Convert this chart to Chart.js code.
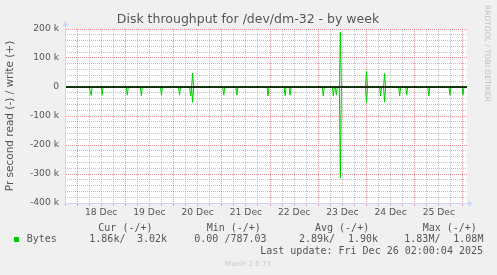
<!DOCTYPE html>
<html><head><meta charset="utf-8">
<script src="https://cdn.jsdelivr.net/npm/chart.js@4/dist/chart.umd.min.js"></script>
<style>html,body{margin:0;padding:0;background:#f0f0f0;overflow:hidden}canvas{display:block}</style>
</head><body>
<div style="width:497px;height:275px;position:relative"><canvas id="c" width="497" height="275"></canvas></div>
<script>
// x unit: 30-minute sample index, 0 = Wed 17 Dec 18:00, 400 = Fri 26 Dec 02:00
const dayLabels = ['18 Dec','19 Dec','20 Dec','21 Dec','22 Dec','23 Dec','24 Dec','25 Dec'];
const gridSamples = [0,12,24,36,48,60,72,84,96,108,120,132,144,156,168,180,192,204,216,228,240,252,264,276,288,300,312,324,336,348,360,372,384,396];
const midnightSamples = [12,60,108,156,204,252,300,348,396];
const noonSamples = [36,84,132,180,228,276,324,372];

// read (drawn negative), bytes/s
const readAt  = [15, 25, 26, 37, 62, 76, 85, 96, 114, 125, 127, 136, 158, 161, 171, 184, 192, 202, 209, 219, 224, 239, 257, 267, 270, 274, 287, 300, 314, 318, 333, 340, 352, 362, 366, 383, 396, 400];
const readVal = [3000, 15000, 29000, 27000, 28000, 30000, 4000, 28000, 28000, 30000, 53000, 2000, 28000, 3000, 28000, 2000, 2000, 31000, 3000, 30000, 28000, 2000, 31000, 31000, 28000, 314000, 2000, 55000, 31000, 52000, 31000, 28000, 3000, 31000, 2000, 28000, 28000, 1860];
// write (drawn positive), bytes/s
const writeAt  = [35, 112, 127, 133, 274, 300, 302, 318, 400];
const writeVal = [3000, 2000, 48000, 1500, 189000, 54000, 2000, 47000, 3020];

// y axis ticks (bytes/s)
const yTicks = [-400000, -300000, -200000, -100000, 0, 100000, 200000];
const yMinorTicks = [-380000,-360000,-340000,-320000,-280000,-260000,-240000,-220000,-180000,-160000,-140000,-120000,-80000,-60000,-40000,-20000,20000,40000,60000,80000,120000,140000,160000,180000];

const legendHeaders = ['Cur (-/+)', 'Min (-/+)', 'Avg (-/+)', 'Max (-/+)'];
const legendName = 'Bytes';
const legendValues = ['1.86k/', '3.02k', '0.00 /787.03', '2.89k/', '1.90k', '1.83M/', '1.08M'];
const lastUpdate = 'Last update: Fri Dec 26 02:00:04 2025';

function buildSeries(at, val, sign) {
  const m = new Map();
  m.set(0, 0);
  at.forEach(t => {
    if (t - 1 >= 0 && !m.has(t - 1)) m.set(t - 1, 0);
    if (t + 1 <= 400 && !m.has(t + 1)) m.set(t + 1, 0);
  });
  at.forEach((t, i) => m.set(t, sign * val[i]));
  if (!m.has(400)) m.set(400, 0);
  return [...m.entries()].sort((a, b) => a[0] - b[0]).map(([x, y]) => ({x, y}));
}

const GREEN = '#00cc00';
const MGRID = 'rgba(222,79,79,0.6)';
const GRID = 'rgba(150,150,150,0.6)';
const AXIS = '#CFD6F8';
const FONTC = '#555555';

const deco = {
  id: 'deco',
  beforeDraw(chart) {
    const {ctx, chartArea: a} = chart;
    ctx.save();
    ctx.fillStyle = '#f0f0f0';
    ctx.fillRect(0, 0, chart.width, chart.height);
    ctx.fillStyle = '#ffffff';
    ctx.fillRect(a.left, a.top, a.right - a.left, a.bottom - a.top);
    ctx.restore();
  },
  afterDatasetsDraw(chart) {
    const {ctx, chartArea: a, scales} = chart;
    const y0 = scales.y.getPixelForValue(0);
    ctx.save();
    ctx.strokeStyle = '#000000';
    ctx.lineWidth = 1.4;
    ctx.beginPath();
    ctx.moveTo(a.left, y0);
    ctx.lineTo(a.right, y0);
    ctx.stroke();
    ctx.restore();
  },
  afterDraw(chart) {
    const {ctx, chartArea: a} = chart;
    ctx.save();
    // axis extensions + arrows
    ctx.strokeStyle = AXIS; ctx.fillStyle = AXIS; ctx.lineWidth = 1;
    const lx = Math.round(a.left) + 0.5, by = Math.round(a.bottom) + 0.5;
    ctx.beginPath(); ctx.moveTo(lx, a.top); ctx.lineTo(lx, a.top - 4); ctx.stroke();
    ctx.beginPath(); ctx.moveTo(lx - 3, a.top - 3); ctx.lineTo(lx + 3, a.top - 3); ctx.lineTo(lx, a.top - 8); ctx.closePath(); ctx.fill();
    ctx.beginPath(); ctx.moveTo(a.right, by); ctx.lineTo(a.right + 3, by); ctx.stroke();
    ctx.beginPath(); ctx.moveTo(a.right + 1, by - 3); ctx.lineTo(a.right + 1, by + 3); ctx.lineTo(a.right + 6, by); ctx.closePath(); ctx.fill();

    // title
    ctx.fillStyle = FONTC;
    ctx.font = '12.5px "DejaVu Sans"';
    ctx.textAlign = 'center'; ctx.textBaseline = 'alphabetic';
    ctx.fillText('Disk throughput for /dev/dm-32 - by week', 248, 23.3);

    // y axis title
    ctx.save();
    ctx.translate(10, 116);
    ctx.rotate(-Math.PI / 2);
    ctx.font = '10.5px "DejaVu Sans"';
    ctx.textAlign = 'center'; ctx.textBaseline = 'middle';
    ctx.fillText('Pr second read (-) / write (+)', 0, 0);
    ctx.restore();

    // right watermark
    ctx.save();
    ctx.translate(487.3, 5);
    ctx.rotate(Math.PI / 2);
    ctx.fillStyle = '#c0c0c0';
    ctx.font = '7.5px "DejaVu Sans"';
    ctx.textAlign = 'left'; ctx.textBaseline = 'middle';
    ctx.fillText('RRDTOOL / TOBI OETIKER', 0, 0);
    ctx.restore();

    // legend
    ctx.font = '10px "DejaVu Sans Mono"';
    ctx.textAlign = 'left'; ctx.textBaseline = 'middle';
    ctx.fillStyle = FONTC;
    const hx = [98.3, 206.7, 315, 422.7];
    legendHeaders.forEach((h, i) => ctx.fillText(h, hx[i], 228));
    ctx.fillText(legendName, 26.7, 239.5);
    const vx = [89.3, 137, 194.3, 299, 348, 404.3, 453.3];
    legendValues.forEach((v, i) => ctx.fillText(v, vx[i], 239.5));
    ctx.textAlign = 'right';
    ctx.fillText(lastUpdate, 483, 251.7);
    ctx.fillStyle = GREEN;
    ctx.fillRect(14, 237, 5, 5);

    // footer
    ctx.fillStyle = '#c8c8c8';
    ctx.font = '7px "DejaVu Sans"';
    ctx.textAlign = 'center';
    ctx.fillText('Munin 2.0.73', 248, 264);
    ctx.restore();
  }
};

new Chart(document.getElementById('c'), {
  type: 'line',
  data: {
    datasets: [
      {label: 'read', data: buildSeries(readAt, readVal, -1), borderColor: GREEN, borderWidth: 1, pointRadius: 0, tension: 0, fill: false, xAxisID: 'x', yAxisID: 'y'},
      {label: 'write', data: buildSeries(writeAt, writeVal, 1), borderColor: GREEN, borderWidth: 1, pointRadius: 0, tension: 0, fill: false, xAxisID: 'x', yAxisID: 'y'}
    ]
  },
  options: {
    responsive: false,
    animation: false,
    devicePixelRatio: 1,
    layout: {padding: {left: 0, right: 30, top: 29, bottom: 0}},
    plugins: {legend: {display: false}, tooltip: {enabled: false}, title: {display: false}},
    scales: {
      x: {
        type: 'linear', position: 'bottom', min: 0, max: 400,
        afterBuildTicks: s => { s.ticks = gridSamples.map(v => ({value: v})); },
        afterFit: s => { s.height = 72; },
        ticks: {
          autoSkip: false, maxRotation: 0, minRotation: 0, padding: 1,
          color: FONTC, font: {family: 'DejaVu Sans', size: 9.2},
          callback: v => noonSamples.includes(v) ? dayLabels[noonSamples.indexOf(v)] : ''
        },
        grid: {
          color: c => midnightSamples.includes(c.tick.value) ? MGRID : GRID,
          tickColor: c => midnightSamples.includes(c.tick.value) ? MGRID : GRID,
          lineWidth: 1, drawTicks: true, tickLength: 3
        },
        border: {display: true, color: AXIS, width: 1, dash: [1, 1], z: 1}
      },
      y: {
        type: 'linear', position: 'left', min: yTicks[0], max: yTicks[yTicks.length - 1],
        afterBuildTicks: s => { s.ticks = yTicks.map(v => ({value: v})); },
        afterFit: s => { s.width = 65; },
        ticks: {
          autoSkip: false, padding: 6,
          color: FONTC, font: {family: 'DejaVu Sans', size: 9.2},
          callback: v => v === 0 ? '0' : (v / 1000) + ' k'
        },
        grid: {color: MGRID, lineWidth: 1, drawTicks: false},
        border: {display: true, color: AXIS, width: 1, dash: [1, 1], z: 1}
      },
      y2: {
        type: 'linear', position: 'left', min: yTicks[0], max: yTicks[yTicks.length - 1],
        afterBuildTicks: s => { s.ticks = yMinorTicks.map(v => ({value: v})); },
        afterFit: s => { s.width = 0; },
        ticks: {display: false, autoSkip: false},
        grid: {color: GRID, lineWidth: 1, drawTicks: false, z: -2},
        border: {display: false, dash: [1, 1]}
      }
    }
  },
  plugins: [deco]
});
</script>
</body></html>
